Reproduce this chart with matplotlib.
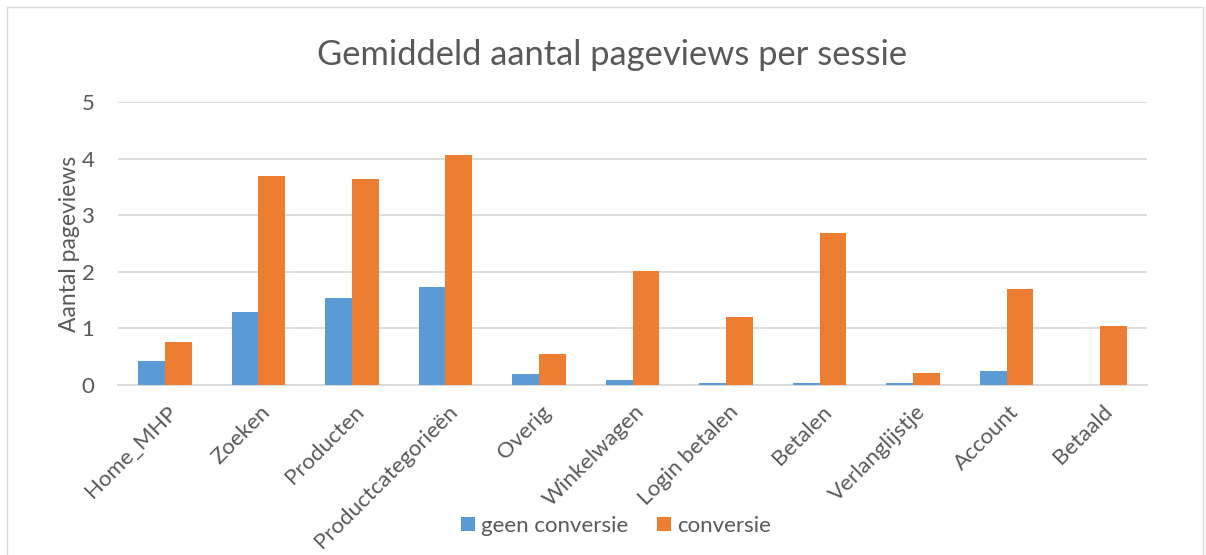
import numpy as np
import matplotlib
matplotlib.use('Agg')
import matplotlib.pyplot as plt
import matplotlib.transforms as mtransforms
from matplotlib.patches import Rectangle

plt.rcParams['font.family'] = ['Lato', 'DejaVu Sans']

# ── Data ────────────────────────────────────────────────────────────
categories = ['Home_MHP', 'Zoeken', 'Producten', 'Productcategorieën', 'Overig',
              'Winkelwagen', 'Login betalen', 'Betalen', 'Verlanglijstje',
              'Account', 'Betaald']
geen_conversie = [0.42, 1.29, 1.53, 1.73, 0.19, 0.09, 0.03, 0.04, 0.035, 0.24, 0.0]
conversie      = [0.76, 3.70, 3.64, 4.07, 0.55, 2.02, 1.21, 2.68, 0.21, 1.69, 1.04]
y_ticks = [0, 1, 2, 3, 4, 5]

BLUE   = '#5B9BD5'
ORANGE = '#ED7D31'
GRID   = '#D9D9D9'
TEXT   = '#595959'

W, H = 1206, 555
fig = plt.figure(figsize=(W / 100, H / 100), dpi=100)
ax = fig.add_axes([118 / W, 1 - 385 / H, (1147 - 118) / W, (385 - 102) / H])

x = np.arange(len(categories))
bw = 1 / 3.5
ax.bar(x - bw / 2, geen_conversie, bw, color=BLUE, label='geen conversie', zorder=3)
ax.bar(x + bw / 2, conversie, bw, color=ORANGE, label='conversie', zorder=3)

ax.set_xlim(-0.5, len(categories) - 0.5)
ax.set_ylim(0, 5)
ax.set_yticks(y_ticks)
ax.yaxis.grid(True, color=GRID, linewidth=1.3, zorder=0)
ax.set_axisbelow(True)
for s in ['top', 'right', 'left']:
    ax.spines[s].set_visible(False)
ax.spines['bottom'].set_color(GRID)
ax.spines['bottom'].set_linewidth(1.3)
ax.tick_params(axis='both', length=0, colors=TEXT, labelsize=16)
ax.tick_params(axis='y', pad=17)

ax.set_xticks(x)
ax.set_xticklabels(categories, rotation=45, ha='right', va='top',
                   rotation_mode='anchor', fontsize=16, color=TEXT)
ax.tick_params(axis='x', pad=12)
shift = mtransforms.ScaledTranslation(0.02, 0, fig.dpi_scale_trans)
for lbl in ax.get_xticklabels():
    lbl.set_transform(lbl.get_transform() + shift)

ax.set_ylabel('Aantal pageviews', fontsize=16.5, color=TEXT, labelpad=1)

fig.text(612 / W, 1 - 55 / H, 'Gemiddeld aantal pageviews per sessie',
         ha='center', va='center', fontsize=24.8, color=TEXT)

fig.legend(loc='center', bbox_to_anchor=(616 / W, 1 - 526 / H), ncol=2,
           frameon=False, fontsize=16, labelcolor=TEXT, handlelength=0.63,
           handleheight=0.63, handletextpad=0.25, columnspacing=1.3,
           borderpad=0, borderaxespad=0)

# chart area border
fig.patches.append(Rectangle((7 / W, -0.05), (1203 - 7) / W, 1 - 7 / H + 0.05,
                             transform=fig.transFigure, fill=False,
                             edgecolor=GRID, linewidth=1))

fig.savefig('out.png', dpi=100)
